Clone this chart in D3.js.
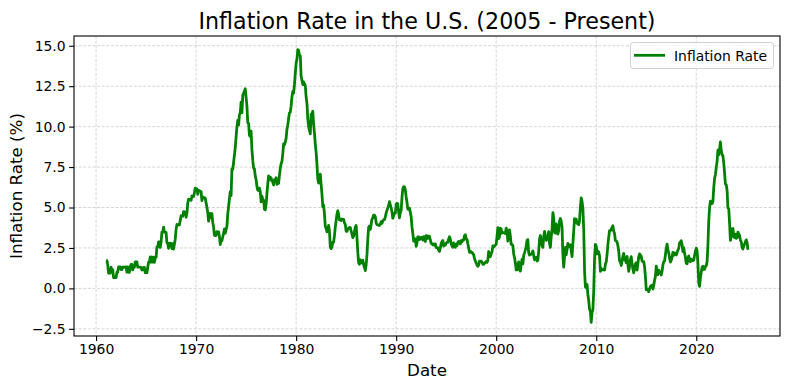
<!DOCTYPE html>
<html>
<head>
<meta charset="utf-8">
<script src="https://cdn.jsdelivr.net/npm/d3@7"></script>
<style>
  html, body { margin: 0; padding: 0; background: #fff; }
  svg { display: block; font-family: "DejaVu Sans", sans-serif; }
</style>
</head>
<body>
<svg id="chart" width="790" height="390"></svg>
<script>
// ---- DATA (monthly U.S. CPI year-over-year %, Jan 1961 .. Mar 2025) ----
const startYear = 1961;
const inflation = [
  1.71,1.71,1.46,0.94,0.94,0.94,1.31,1.16,1.16,0.67,0.67,0.67, // 1961
  0.67,1.00,1.00,1.33,1.33,1.33,1.16,1.16,1.32,1.32,1.32,1.32, // 1962
  1.33,1.00,1.33,0.99,0.99,1.32,1.48,1.48,1.15,1.31,1.31,1.64, // 1963
  1.64,1.64,1.31,1.31,1.31,1.31,1.30,1.14,1.14,1.30,1.30,0.97, // 1964
  0.97,0.97,1.29,1.62,1.62,1.94,1.62,1.94,1.62,1.93,1.61,1.92, // 1965
  1.92,2.56,2.56,2.87,2.87,2.53,2.85,3.48,3.48,3.79,3.48,3.46, // 1966
  3.46,2.81,2.80,2.48,2.79,2.79,2.78,2.46,2.77,2.43,2.74,3.04, // 1967
  3.65,3.95,3.94,3.93,3.92,4.20,4.49,4.48,4.46,4.75,4.73,4.72, // 1968
  4.40,4.68,5.25,5.52,5.51,5.48,5.44,5.71,5.70,5.68,5.93,6.20, // 1969
  6.18,6.15,5.82,6.06,6.04,6.01,5.98,5.42,5.66,5.63,5.60,5.57, // 1970
  5.29,5.00,4.71,4.16,4.40,4.64,4.36,4.62,4.08,3.81,3.28,3.27, // 1971
  3.27,3.51,3.50,3.49,3.23,2.71,2.95,2.94,3.19,3.42,3.67,3.41, // 1972
  3.65,3.87,4.59,5.06,5.53,5.98,5.73,7.38,7.36,7.80,8.25,8.71, // 1973
  9.39,10.02,10.39,10.09,10.71,10.86,11.51,10.86,11.95,12.06,12.20,12.34, // 1974
  11.80,11.23,10.25,10.21,9.47,9.39,9.72,8.60,7.91,7.44,7.38,6.94, // 1975
  6.72,6.29,6.07,6.05,6.20,5.97,5.35,5.71,5.49,5.46,4.88,4.86, // 1976
  5.22,5.91,6.44,6.95,6.73,6.87,6.83,6.62,6.60,6.39,6.72,6.70, // 1977
  6.84,6.43,6.55,6.50,6.97,7.41,7.70,7.84,8.31,8.93,8.89,9.03, // 1978
  9.28,9.86,10.09,10.49,10.85,10.89,11.26,11.82,12.18,12.07,12.61,13.29, // 1979
  13.91,14.18,14.76,14.73,14.41,14.38,13.13,12.87,12.60,12.77,12.65,12.52, // 1980
  11.83,11.41,10.49,10.00,9.78,9.55,10.76,10.80,10.95,10.14,9.59,8.92, // 1981
  8.39,7.62,6.78,6.51,6.68,7.06,6.44,5.85,5.04,5.14,4.59,3.83, // 1982
  3.71,3.49,3.60,3.90,3.55,2.58,2.46,2.56,2.86,2.85,3.27,3.79, // 1983
  4.19,4.60,4.80,4.56,4.23,4.22,4.20,4.29,4.27,4.26,4.05,3.95, // 1984
  3.53,3.52,3.70,3.69,3.77,3.76,3.55,3.35,3.14,3.23,3.51,3.80, // 1985
  3.89,3.11,2.26,1.59,1.49,1.77,1.58,1.57,1.75,1.47,1.28,1.10, // 1986
  1.46,2.10,3.03,3.78,3.86,3.65,3.93,4.28,4.36,4.53,4.53,4.43, // 1987
  4.05,3.94,3.93,3.90,3.89,3.96,4.13,4.02,4.17,4.25,4.25,4.42, // 1988
  4.67,4.83,4.98,5.12,5.36,5.17,4.98,4.71,4.34,4.49,4.66,4.65, // 1989
  5.20,5.26,5.23,4.71,4.36,4.67,4.82,5.62,6.16,6.29,6.27,6.11, // 1990
  5.65,5.31,4.90,4.89,4.95,4.70,4.45,3.80,3.39,2.92,2.99,3.06, // 1991
  2.60,2.82,3.19,3.18,3.02,3.09,3.16,3.15,2.99,3.20,3.05,2.90, // 1992
  3.26,3.25,3.09,3.23,3.22,3.00,2.78,2.77,2.69,2.75,2.68,2.75, // 1993
  2.52,2.52,2.51,2.36,2.29,2.49,2.77,2.90,2.96,2.61,2.67,2.67, // 1994
  2.80,2.86,2.85,3.05,3.19,3.04,2.76,2.62,2.54,2.81,2.61,2.54, // 1995
  2.73,2.65,2.84,2.90,2.89,2.75,2.95,2.88,3.00,2.99,3.26,3.32, // 1996
  3.04,3.03,2.76,2.50,2.23,2.30,2.23,2.23,2.15,2.08,1.83,1.70, // 1997
  1.57,1.44,1.37,1.44,1.69,1.68,1.68,1.62,1.49,1.49,1.55,1.61, // 1998
  1.67,1.61,1.73,2.28,2.09,1.96,2.14,2.26,2.63,2.56,2.62,2.68, // 1999
  2.74,3.22,3.76,3.07,3.19,3.73,3.66,3.41,3.45,3.45,3.45,3.39, // 2000
  3.73,3.53,2.92,3.27,3.62,3.25,2.72,2.72,2.65,2.13,1.90,1.55, // 2001
  1.14,1.14,1.48,1.64,1.18,1.07,1.46,1.80,1.51,2.03,2.20,2.38, // 2002
  2.60,2.98,3.02,2.22,2.06,2.11,2.11,2.16,2.32,2.04,1.77,1.88, // 2003
  1.93,1.69,1.74,2.29,3.05,3.27,2.99,2.65,2.54,3.19,3.52,3.26, // 2004
  2.97,3.01,3.15,3.51,2.80,2.53,3.17,3.64,4.69,4.35,3.46,3.42, // 2005
  3.99,3.60,3.36,3.55,4.17,4.32,4.15,3.82,2.06,1.31,1.97,2.54, // 2006
  2.08,2.42,2.78,2.57,2.69,2.69,2.36,1.97,2.76,3.54,4.31,4.08, // 2007
  4.28,4.03,3.98,3.94,4.18,5.02,5.60,5.37,4.94,3.66,1.07,0.09, // 2008
  0.03,0.24,-0.38,-0.74,-1.28,-1.43,-2.10,-1.48,-1.29,-0.18,1.84,2.72, // 2009
  2.63,2.14,2.31,2.24,2.02,1.05,1.24,1.15,1.14,1.17,1.14,1.50, // 2010
  1.63,2.11,2.68,3.16,3.57,3.56,3.63,3.77,3.87,3.53,3.39,2.96, // 2011
  2.93,2.87,2.65,2.30,1.70,1.66,1.41,1.69,1.99,2.16,1.76,1.74, // 2012
  1.59,1.98,1.47,1.06,1.36,1.75,1.96,1.52,1.18,0.96,1.24,1.50, // 2013
  1.58,1.13,1.51,1.95,2.13,2.07,1.99,1.70,1.66,1.66,1.32,0.76, // 2014
  -0.09,-0.03,-0.07,-0.20,-0.04,0.12,0.17,0.20,-0.04,0.17,0.50,0.73, // 2015
  1.37,1.02,0.85,1.13,1.02,1.01,0.83,1.06,1.46,1.64,1.69,2.07, // 2016
  2.50,2.74,2.38,2.20,1.87,1.63,1.73,1.94,2.23,2.04,2.20,2.11, // 2017
  2.07,2.21,2.36,2.46,2.80,2.87,2.95,2.70,2.28,2.52,2.18,1.91, // 2018
  1.55,1.52,1.86,2.00,1.79,1.65,1.81,1.75,1.71,1.76,2.05,2.29, // 2019
  2.49,2.33,1.54,0.33,0.12,0.65,0.99,1.31,1.37,1.18,1.17,1.36, // 2020
  1.40,1.68,2.62,4.16,4.99,5.39,5.37,5.25,5.39,6.22,6.81,7.04, // 2021
  7.48,7.87,8.54,8.26,8.58,9.06,8.52,8.26,8.20,7.75,7.11,6.45, // 2022
  6.41,6.04,4.98,4.93,4.05,2.97,3.18,3.67,3.70,3.24,3.14,3.35, // 2023
  3.09,3.15,3.48,3.36,3.27,2.97,2.89,2.53,2.44,2.60,2.75,2.89, // 2024
  3.00,2.82,2.39                                               // 2025
];
const xTickYears = [1960, 1970, 1980, 1990, 2000, 2010, 2020];
const yTicks = [-2.5, 0.0, 2.5, 5.0, 7.5, 10.0, 12.5, 15.0];
const titleText = "Inflation Rate in the U.S. (2005 - Present)";
const xLabel = "Date";
const yLabel = "Inflation Rate (%)";
const seriesName = "Inflation Rate";

// ---- BUILD ----
const data = inflation.map((v, i) => ({
  date: new Date(startYear + Math.floor(i / 12), i % 12, 1),
  value: v
}));

const svg = d3.select("#chart");
const W = 790, H = 390;
const m = { left: 74, right: 10, top: 36, bottom: 54 };
const iw = W - m.left - m.right, ih = H - m.top - m.bottom;

const [d0, d1] = d3.extent(data, d => d.date);
const span = d1 - d0;
const x = d3.scaleTime()
  .domain([new Date(+d0 - 0.05 * span), new Date(+d1 + 0.05 * span)])
  .range([0, iw]);
const [vmin, vmax] = d3.extent(data, d => d.value);
const vr = vmax - vmin;
const y = d3.scaleLinear()
  .domain([vmin - 0.05 * vr, vmax + 0.05 * vr])
  .range([ih, 0]);

const g = svg.append("g").attr("transform", `translate(${m.left},${m.top})`);

// grid
const xTickDates = xTickYears.map(yr => new Date(yr, 0, 1));
const gridStyle = sel => sel.attr("stroke", "#c4c4c4").attr("stroke-width", 0.7)
  .attr("stroke-dasharray", "3,1.6");
g.append("g").selectAll("line").data(xTickDates).join("line")
  .attr("x1", d => x(d)).attr("x2", d => x(d))
  .attr("y1", 0).attr("y2", ih).call(gridStyle);
g.append("g").selectAll("line").data(yTicks).join("line")
  .attr("x1", 0).attr("x2", iw)
  .attr("y1", d => y(d)).attr("y2", d => y(d)).call(gridStyle);

// line
const line = d3.line().x(d => x(d.date)).y(d => y(d.value));
g.append("path").datum(data)
  .attr("fill", "none").attr("stroke", "#008000")
  .attr("stroke-width", 2.78).attr("stroke-linejoin", "round")
  .attr("stroke-linecap", "butt")
  .attr("d", line);

// axes
const fmtY = d => d3.format(".1f")(d).replace("-", "\u2212");
const xAxis = g.append("g").attr("transform", `translate(0,${ih})`)
  .call(d3.axisBottom(x).tickValues(xTickDates).tickFormat(d3.timeFormat("%Y"))
        .tickSize(4.9).tickPadding(3.5));
const yAxis = g.append("g")
  .call(d3.axisLeft(y).tickValues(yTicks).tickFormat(fmtY)
        .tickSize(4.9).tickPadding(3.5));
[xAxis, yAxis].forEach(a => {
  a.select(".domain").remove();
  a.selectAll("line").attr("stroke", "#000").attr("stroke-width", 1.1);
  a.selectAll("text").attr("fill", "#000")
    .style("font-family", "'DejaVu Sans', sans-serif").style("font-size", "13.9px");
});

// frame
g.append("rect").attr("x", 0).attr("y", 0).attr("width", iw).attr("height", ih)
  .attr("fill", "none").attr("stroke", "#000").attr("stroke-width", 1.1);

// title & labels
svg.append("text").attr("x", m.left + iw / 2).attr("y", 28.5)
  .attr("text-anchor", "middle").style("font-size", "22.2px").attr("fill", "#000")
  .text(titleText);
svg.append("text").attr("x", m.left + iw / 2).attr("y", 376)
  .attr("text-anchor", "middle").style("font-size", "16.7px").attr("fill", "#000")
  .text(xLabel);
svg.append("text")
  .attr("transform", `translate(22,${m.top + ih / 2}) rotate(-90)`)
  .attr("text-anchor", "middle").style("font-size", "16.7px").attr("fill", "#000")
  .text(yLabel);

// legend
const lg = svg.append("g").attr("transform", "translate(630.5,42.5)");
lg.append("rect").attr("width", 143).attr("height", 26).attr("rx", 2.8)
  .attr("fill", "#fff").attr("fill-opacity", 0.8)
  .attr("stroke", "#d0d0d0").attr("stroke-width", 1);
lg.append("line").attr("x1", 3.5).attr("x2", 34.5).attr("y1", 12.8).attr("y2", 12.8)
  .attr("stroke", "#008000").attr("stroke-width", 2.78);
lg.append("text").attr("x", 43.5).attr("y", 18).style("font-size", "13.9px")
  .attr("fill", "#000").text(seriesName);
</script>
</body>
</html>
